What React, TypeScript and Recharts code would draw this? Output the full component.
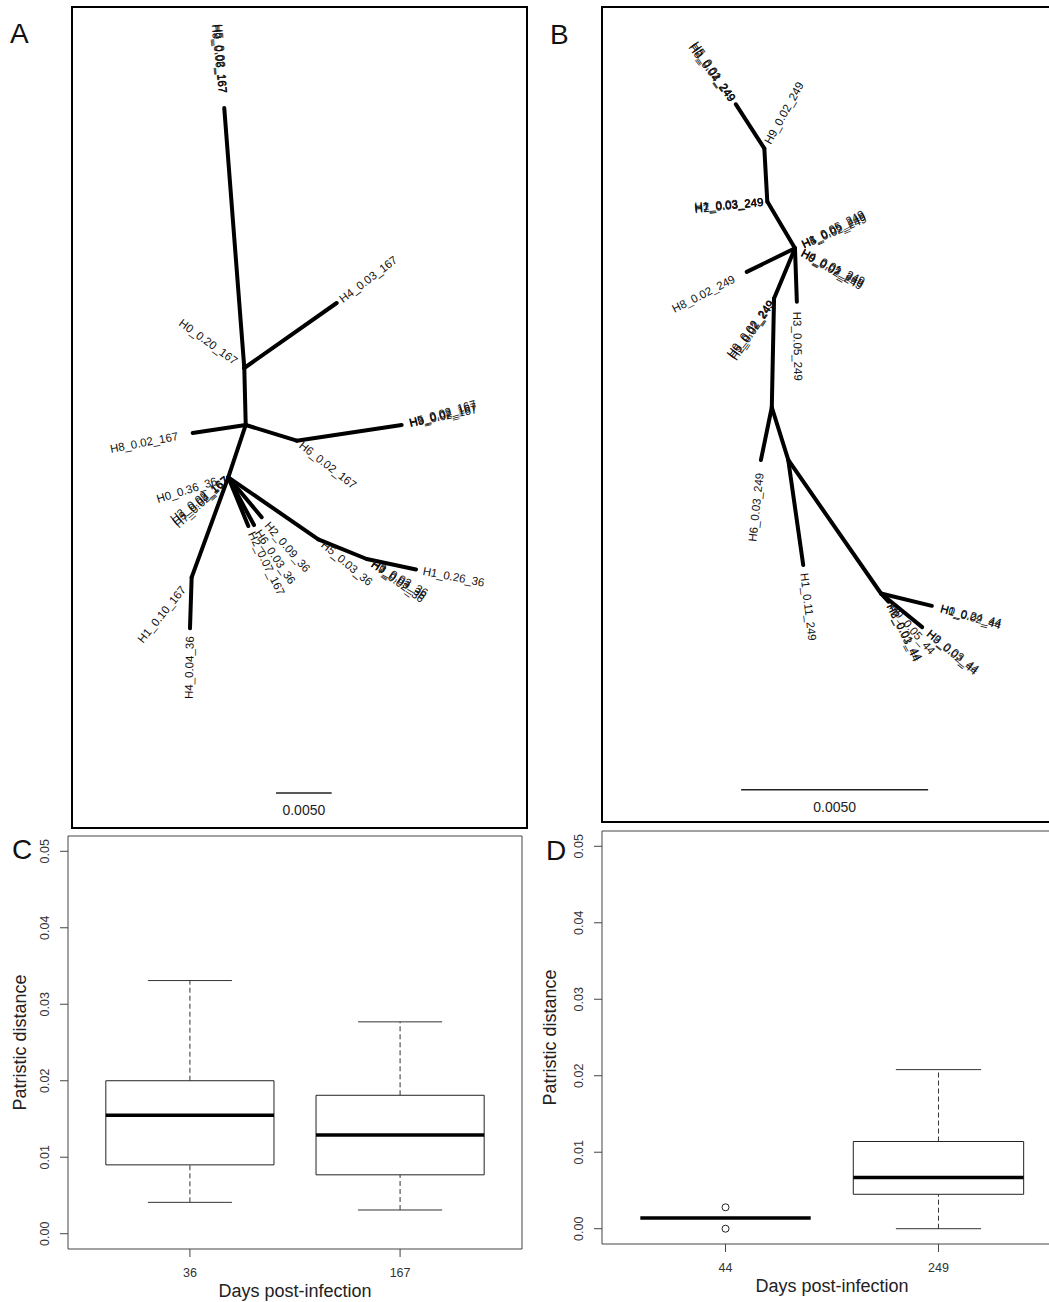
import React from 'react';
import {
    ScatterChart,
    ComposedChart,
    Scatter,
    XAxis,
    YAxis,
    ReferenceLine,
    ReferenceArea
} from 'recharts';

const FONT = '"Liberation Sans", Arial, Helvetica, sans-serif';

// ---- Tree A (unrooted layout, units of 0.001 substitutions/site) ----
const treeANodes: number[][] = [
    [13.68, 64.69], [15.48, 41.33], [23.78, 47.17], [15.61, 36.21],
    [10.84, 35.49], [20.19, 34.8], [29.62, 36.21], [14.04, 31.51],
    [10.75, 22.52], [10.6, 17.94], [15.84, 27.13], [16.35, 27.22],
    [17.04, 27.92], [22.13, 25.94], [26.48, 24.17], [30.91, 23.23]
];
const treeAEdges: number[][] = [
    [0, 1], [1, 2], [1, 3], [3, 4], [3, 5], [5, 6], [3, 7], [7, 8],
    [8, 9], [7, 10], [7, 11], [7, 12], [7, 13], [13, 14], [14, 15]
];
// [node, tip label, direction (deg), offset]
const treeALabels: any[] = [
    [0, 'H2_0.03_167', -95, 15], [0, 'H5_0.02_167', -94, 15], [0, 'H9_0.06_167', -96, 15],
    [2, 'H4_0.03_167', -37, 5],
    [1, 'H0_0.20_167', -144, 10],
    [4, 'H8_0.02_167', 169, 15],
    [6, 'H9_0.02_167', -12, 8], [6, 'H3_0.02_167', -14, 8], [6, 'H5_0.02_167', -16, 8],
    [5, 'H6_0.02_167', 38, 5],
    [7, 'H0_0.36_36', 163, 12],
    [7, 'H7_0.02_167', 137, 2], [7, 'H3_0.03_167', 140, 2], [7, 'H2_0.02_167', 143, 2],
    [12, 'H2_0.09_36', 49, 8],
    [11, 'H6_0.03_36', 56, 7],
    [10, 'H2_0.07_167', 64, 7],
    [13, 'H5_0.03_36', 40, 6],
    [14, 'H3_0.03_36', 30, 7], [14, 'H9_0.03_36', 33, 7], [14, 'H7_0.02_36', 36, 7],
    [15, 'H1_0.26_36', 11, 7],
    [8, 'H1_0.10_167', 129, 13],
    [9, 'H4_0.04_36', 91, 8]
];
const scaleBarA = { x0: 18.33, y: 3.14, len: 5, text: '0.0050' };

// ---- Tree B ----
const treeBNodes: number[][] = [
    [3.58, 19.19], [4.34, 18.01], [4.42, 16.59], [5.16, 15.34], [3.87, 14.71],
    [5.21, 13.91], [4.6, 14.0], [4.54, 11.09], [4.25, 9.68], [4.98, 9.68],
    [5.38, 6.87], [7.46, 6.11], [8.82, 5.78], [8.56, 5.21], [7.66, 5.89]
];
const treeBEdges: number[][] = [
    [0, 1], [1, 2], [2, 3], [3, 4], [3, 5], [3, 6], [6, 7], [7, 8],
    [7, 9], [9, 10], [9, 11], [11, 12], [11, 13], [11, 14]
];
const treeBLabels: any[] = [
    [0, 'H5_0.01_249', -124, 5], [0, 'H2_0.02_249', -125.5, 5], [0, 'H0_0.04_249', -127, 5],
    [1, 'H9_0.02_249', -61, 6],
    [2, 'H7_0.03_249', 175, 4], [2, 'H1_0.03_249', 176, 4], [2, 'H2_0.03_249', 174, 4],
    [3, 'H4_0.05_249', -25, 8], [3, 'H1_0.05_249', -27, 8], [3, 'H5_0.02_249', -23, 8],
    [3, 'H9_0.02_249', 28, 8], [3, 'H0_0.02_249', 30, 8], [3, 'H4_0.01_249', 26, 8],
    [4, 'H8_0.02_249', 153, 14],
    [5, 'H3_0.05_249', 89, 10],
    [6, 'H5_0.02_249', 126, 4], [6, 'H2_0.02_249', 124, 4], [6, 'H0_0.02_249', 128, 4],
    [8, 'H6_0.03_249', 96, 13],
    [10, 'H1_0.11_249', 83, 8],
    [12, 'H0_0.24_44', 14, 9], [12, 'H1_0.02_44', 16, 9],
    [13, 'H3_0.03_44', 38, 8], [13, 'H9_0.02_44', 40, 8],
    [14, 'H2_0.01_44', 62, 3], [14, 'H6_0.03_44', 64, 3], [14, 'H0_0.05_44', 49, 5]
];
const scaleBarB = { x0: 3.72, y: 0.864, len: 5, text: '0.0050' };

// ---- Boxplots ----
const daysC = ['36', '167'];
const lowC = [0.0041, 0.0031];
const q1C = [0.009, 0.0077];
const medC = [0.0155, 0.0129];
const q3C = [0.02, 0.0181];
const highC = [0.0331, 0.0277];
const outC: number[][] = [[], []];

const daysD = ['44', '249'];
const lowD = [0.0014, 0.0];
const q1D = [0.0014, 0.0045];
const medD = [0.0014, 0.0067];
const q3D = [0.0014, 0.0114];
const highD = [0.0014, 0.0208];
const outD: number[][] = [[0.0028, 0.0], []];

const yTicks = [0, 0.01, 0.02, 0.03, 0.04, 0.05];

const TreeLabel = (props: any) => {
    const { cx, cy, payload } = props;
    const a = (payload.angle * Math.PI) / 180;
    const flip = Math.cos(a) < 0;
    const px = cx + payload.gap * Math.cos(a);
    const py = cy + payload.gap * Math.sin(a);
    const rot = flip ? payload.angle - 180 : payload.angle;
    return (
        <text
            x={px}
            y={py}
            transform={`rotate(${rot} ${px} ${py})`}
            textAnchor={flip ? 'end' : 'start'}
            dominantBaseline="central"
            fontSize={11.5}
            fontFamily={FONT}
            fill="#111"
        >
            {payload.text}
        </text>
    );
};

const BarLabel = (props: any) => {
    const { cx, cy, payload } = props;
    return (
        <text x={cx} y={cy + 17} textAnchor="middle" dominantBaseline="central" fontSize={14} fontFamily={FONT} fill="#222">
            {payload.text}
        </text>
    );
};

const TreePanel = ({ nodes, edges, labels, bar, width, height, unit }: any) => {
    const pts = labels.map(([n, text, angle, gap]: any) => ({ x: nodes[n][0], y: nodes[n][1], text, angle, gap }));
    const barPts = [{ x: bar.x0 + bar.len / 2, y: bar.y, text: bar.text }];
    return (
        <ScatterChart width={width} height={height} margin={{ top: 0, right: 0, bottom: 0, left: 0 }}>
            <XAxis type="number" dataKey="x" domain={[0, width / unit]} hide allowDataOverflow />
            <YAxis type="number" dataKey="y" domain={[0, height / unit]} hide allowDataOverflow />
            {edges.map(([a, b]: number[], i: number) => (
                <ReferenceLine
                    key={`e-${i}`}
                    segment={[{ x: nodes[a][0], y: nodes[a][1] }, { x: nodes[b][0], y: nodes[b][1] }]}
                    stroke="#000"
                    strokeWidth={4}
                    strokeLinecap="round"
                />
            ))}
            <ReferenceLine
                segment={[{ x: bar.x0, y: bar.y }, { x: bar.x0 + bar.len, y: bar.y }]}
                stroke="#222"
                strokeWidth={1.5}
            />
            <Scatter data={pts} shape={TreeLabel} isAnimationActive={false} />
            <Scatter data={barPts} shape={BarLabel} isAnimationActive={false} />
        </ScatterChart>
    );
};

const BoxPanel = ({ days, low, q1, med, q3, high, outliers, width, height, top, yAxisWidth, xAxisHeight }: any) => {
    const centers = days.map((_: string, i: number) => ({ x: i + 1, y: med[i] }));
    const outPts: any[] = [];
    outliers.forEach((vals: number[], i: number) => vals.forEach((v) => outPts.push({ x: i + 1, y: v })));

    const xTick = ({ x, y, payload }: any) => (
        <text x={x} y={y} textAnchor="middle" dominantBaseline="central" fontSize={12.5} fontFamily={FONT} fill="#333">
            {days[payload.value - 1]}
        </text>
    );
    const yTick = ({ x, y, payload }: any) => (
        <text
            x={x}
            y={y}
            transform={`rotate(-90 ${x} ${y})`}
            textAnchor="middle"
            dominantBaseline="central"
            fontSize={12.5}
            fontFamily={FONT}
            fill="#333"
        >
            {payload.value.toFixed(2)}
        </text>
    );

    return (
        <ComposedChart width={width} height={height} margin={{ top, right: 8, bottom: 0, left: 0 }}>
            <XAxis
                type="number"
                dataKey="x"
                domain={[0.42, 2.58]}
                ticks={[1, 2]}
                axisLine={false}
                tickSize={8}
                tickMargin={16}
                tickLine={{ stroke: '#444' }}
                tick={xTick}
                height={xAxisHeight}
                allowDataOverflow
                label={{
                    content: ({ viewBox }: any) => (
                        <text
                            x={viewBox.x + viewBox.width / 2}
                            y={viewBox.y + 41.5}
                            textAnchor="middle"
                            dominantBaseline="central"
                            fontSize={18}
                            fontFamily={FONT}
                            fill="#222"
                        >
                            Days post-infection
                        </text>
                    )
                }}
            />
            <YAxis
                type="number"
                dataKey="y"
                domain={[-0.002, 0.052]}
                ticks={yTicks}
                axisLine={false}
                tickSize={8}
                tickMargin={15}
                tickLine={{ stroke: '#444' }}
                tick={yTick}
                width={yAxisWidth}
                allowDataOverflow
                label={{
                    content: ({ viewBox }: any) => {
                        const lx = viewBox.x + 19.5;
                        const ly = viewBox.y + viewBox.height / 2;
                        return (
                            <text
                                x={lx}
                                y={ly}
                                transform={`rotate(-90 ${lx} ${ly})`}
                                textAnchor="middle"
                                dominantBaseline="central"
                                fontSize={18}
                                fontFamily={FONT}
                                fill="#222"
                            >
                                Patristic distance
                            </text>
                        );
                    }
                }}
            />
            <ReferenceArea x1={0.42} x2={2.58} y1={-0.002} y2={0.052} fill="none" stroke="#444" strokeWidth={1} />
            {days.map((_: string, i: number) => {
                const p = i + 1;
                return (
                    <React.Fragment key={`b-${i}`}>
                        <ReferenceLine segment={[{ x: p, y: low[i] }, { x: p, y: q1[i] }]} stroke="#333" strokeDasharray="5 3" />
                        <ReferenceLine segment={[{ x: p, y: q3[i] }, { x: p, y: high[i] }]} stroke="#333" strokeDasharray="5 3" />
                        <ReferenceLine segment={[{ x: p - 0.2, y: low[i] }, { x: p + 0.2, y: low[i] }]} stroke="#333" />
                        <ReferenceLine segment={[{ x: p - 0.2, y: high[i] }, { x: p + 0.2, y: high[i] }]} stroke="#333" />
                        <ReferenceArea x1={p - 0.4} x2={p + 0.4} y1={q1[i]} y2={q3[i]} fill="#fff" fillOpacity={1} stroke="#222" strokeWidth={1} />
                        <ReferenceLine segment={[{ x: p - 0.4, y: med[i] }, { x: p + 0.4, y: med[i] }]} stroke="#000" strokeWidth={3.5} />
                    </React.Fragment>
                );
            })}
            <Scatter data={centers} shape={() => <g />} isAnimationActive={false} />
            {outPts.length > 0 && (
                <Scatter
                    data={outPts}
                    shape={({ cx, cy }: any) => <circle cx={cx} cy={cy} r={3.5} fill="none" stroke="#222" strokeWidth={1} />}
                    isAnimationActive={false}
                />
            )}
        </ComposedChart>
    );
};

const letter = (t: string, x: number, y: number) => (
    <text x={x} y={y} fontSize={28} fontFamily={FONT} fill="#111">
        {t}
    </text>
);

export default function App() {
    return (
        <div
            style={{
                position: 'absolute',
                left: 0,
                top: 0,
                width: 1049,
                height: 1302,
                overflow: 'hidden',
                background: '#fff',
                fontFamily: FONT
            }}
        >
            <div style={{ position: 'absolute', left: 71, top: 6, width: 457, height: 823, border: '2px solid #000', boxSizing: 'border-box' }} />
            <div style={{ position: 'absolute', left: 72, top: 7 }}>
                <TreePanel nodes={treeANodes} edges={treeAEdges} labels={treeALabels} bar={scaleBarA} width={455} height={821} unit={11.13} />
            </div>

            <div style={{ position: 'absolute', left: 601, top: 6, width: 470, height: 817, border: '2px solid #000', boxSizing: 'border-box' }} />
            <div style={{ position: 'absolute', left: 602, top: 7 }}>
                <TreePanel nodes={treeBNodes} edges={treeBEdges} labels={treeBLabels} bar={scaleBarB} width={460} height={815} unit={37.4} />
            </div>

            <div style={{ position: 'absolute', left: 0, top: 830 }}>
                <BoxPanel
                    days={daysC} low={lowC} q1={q1C} med={medC} q3={q3C} high={highC} outliers={outC}
                    width={530} height={472} top={6} yAxisWidth={68} xAxisHeight={53}
                />
            </div>
            <div style={{ position: 'absolute', left: 530, top: 826 }}>
                <BoxPanel
                    days={daysD} low={lowD} q1={q1D} med={medD} q3={q3D} high={highD} outliers={outD}
                    width={540} height={476} top={5} yAxisWidth={72} xAxisHeight={58}
                />
            </div>

            <svg width={1049} height={1302} style={{ position: 'absolute', left: 0, top: 0, pointerEvents: 'none' }}>
                {letter('A', 10, 43)}
                {letter('B', 550, 44)}
                {letter('C', 12, 859)}
                {letter('D', 546, 860)}
            </svg>
        </div>
    );
}
